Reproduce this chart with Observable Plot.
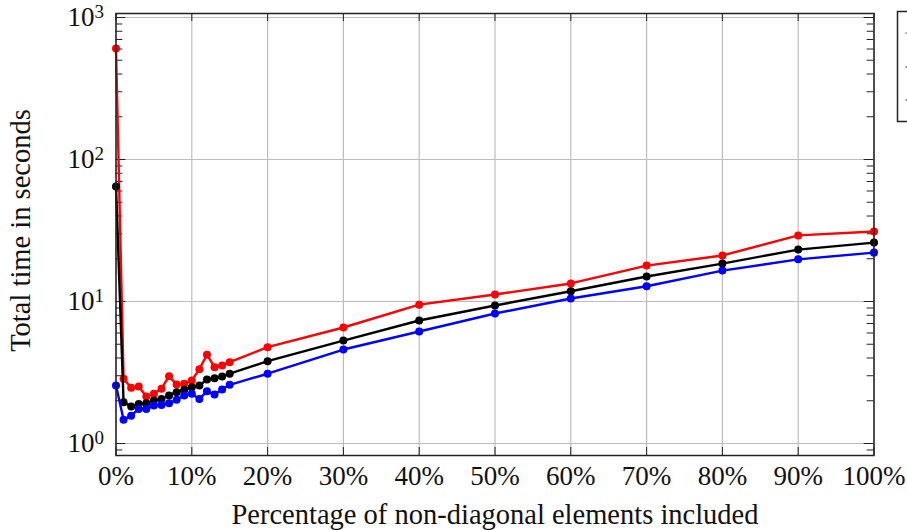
<!DOCTYPE html>
<html><head><meta charset="utf-8">
<script src="https://cdn.jsdelivr.net/npm/d3@7"></script>
<script src="https://cdn.jsdelivr.net/npm/@observablehq/plot@0.6"></script>
<style>body{margin:0;background:#fff} svg{display:block}</style>
</head><body><div id="chart"></div>
<script>
// x: percentage of non-diagonal elements included
const percentages = [0,1,2,3,4,5,6,7,8,9,10,11,12,13,14,15,20,30,40,50,60,70,80,90,100];
// total time in seconds
const redTimes   = [604,2.86,2.47,2.52,2.14,2.24,2.43,2.98,2.60,2.63,2.78,3.34,4.22,3.45,3.54,3.74,4.77,6.56,9.5,11.2,13.4,17.9,21.1,29.2,31.1];
const blackTimes = [64.5,1.95,1.82,1.90,1.92,2.01,2.06,2.18,2.30,2.39,2.49,2.56,2.82,2.88,2.96,3.10,3.80,5.31,7.35,9.37,11.8,15.0,18.5,23.2,26.0];
const blueTimes  = [2.56,1.47,1.57,1.75,1.75,1.85,1.87,1.92,2.03,2.18,2.24,2.06,2.33,2.21,2.40,2.59,3.10,4.59,6.15,8.23,10.5,12.8,16.5,19.8,22.1];
const seriesNames = ["red","black","blue"];
const seriesValues = [redTimes, blackTimes, blueTimes];
const seriesColors = ["#ff0000","#000000","#0000ff"];
const xTicks = [0,10,20,30,40,50,60,70,80,90,100];
const yTicks = [1,10,100,1000];
const yMinorTicks = [0.9,2,3,4,5,6,7,8,9,20,30,40,50,60,70,80,90,200,300,400,500,600,700,800,900];
const xLabel = "Percentage of non-diagonal elements included";
const yLabel = "Total time in seconds";

const data = seriesNames.flatMap((name, i) =>
  seriesValues[i].map((v, j) => ({pct: percentages[j], time: v, series: name})));

const yDomain = [Math.pow(10, -12/142), Math.pow(10, 3 + 4/142)];
const tickF = (px) => Math.pow(10, px/142);
const serif = "Liberation Serif, Times New Roman, serif";
const tickColor = "#222";

const seriesMarks = seriesNames.flatMap(name => [
  Plot.line(data.filter(d => d.series === name), {x: "pct", y: "time", stroke: "series", strokeWidth: 2.4}),
  Plot.dot(data.filter(d => d.series === name), {x: "pct", y: "time", fill: "series", r: 4})
]);

const chart = Plot.plot({
  width: 907,
  height: 530,
  marginLeft: 115.5,
  marginRight: 33.5,
  marginTop: 13,
  marginBottom: 75,
  style: {fontFamily: serif, background: "#fff"},
  x: {domain: [0, 100]},
  y: {type: "log", domain: yDomain},
  color: {domain: seriesNames, range: seriesColors},
  marks: [
    Plot.gridX(xTicks, {stroke: "#bdbdbd", strokeOpacity: 1, strokeWidth: 1.2}),
    Plot.gridY(yTicks, {stroke: "#bdbdbd", strokeOpacity: 1, strokeWidth: 1.2}),
    // minor ticks (inward) on left and right
    Plot.ruleY(yMinorTicks, {x1: 0, x2: 0.9, stroke: tickColor, strokeWidth: 1}),
    Plot.ruleY(yMinorTicks, {x1: 99.1, x2: 100, stroke: tickColor, strokeWidth: 1}),
    // major ticks (inward)
    Plot.ruleY(yTicks, {x1: 0, x2: 1.3, stroke: tickColor, strokeWidth: 1}),
    Plot.ruleY(yTicks, {x1: 98.7, x2: 100, stroke: tickColor, strokeWidth: 1}),
    Plot.ruleX(xTicks, {y1: yDomain[0], y2: yDomain[0]*tickF(8), stroke: tickColor, strokeWidth: 1}),
    Plot.ruleX(xTicks, {y1: yDomain[1], y2: yDomain[1]/tickF(8), stroke: tickColor, strokeWidth: 1}),
    ...seriesMarks,
    Plot.frame({stroke: "#222", strokeWidth: 1.5}),
    Plot.axisX(xTicks, {tickSize: 0, tickPadding: 10, fontSize: 27, fontFamily: serif, fill: "#111", tickFormat: d => d + "%", label: null}),
    Plot.axisY(yTicks, {tickSize: 0, tickPadding: 12, fontSize: 27, fontFamily: serif, fill: "#111", tickFormat: d => "10^" + Math.round(Math.log10(d)), label: null}),
    Plot.text([xLabel], {frameAnchor: "bottom", dy: 68, lineAnchor: "bottom", textAnchor: "middle", fontSize: 28.5, fontFamily: serif, fill: "#111", text: d => d}),
    Plot.text([yLabel], {frameAnchor: "left", dx: -86, dy: -4, rotate: -90, lineAnchor: "bottom", textAnchor: "middle", fontSize: 28.5, fontFamily: serif, fill: "#111", text: d => d})
  ]
});

document.getElementById("chart").appendChild(chart);

// superscript exponents on the y tick labels
d3.select(chart).selectAll('g[aria-label="y-axis tick label"] text').each(function() {
  const t = d3.select(this);
  const s = t.text();
  if (!s.includes("^")) return;
  const [base, exp] = s.split("^");
  t.text(null);
  t.append("tspan").text(base);
  t.append("tspan").attr("dy", "-0.42em").attr("font-size", "19px").text(exp);
});

// legend box (cut off at the right edge, as in the reference)
const svg = d3.select(chart);
const lg = svg.append("g");
lg.append("rect").attr("x", 897.5).attr("y", 11.5).attr("width", 40).attr("height", 110)
  .attr("fill", "#fff").attr("stroke", "#222").attr("stroke-width", 1.5);
[33, 67, 100].forEach((yy, i) => {
  lg.append("line").attr("x1", 905.5).attr("x2", 940).attr("y1", yy).attr("y2", yy)
    .attr("stroke", seriesColors[i]).attr("stroke-width", 2).attr("stroke-opacity", 0.5);
});
</script>
</body></html>
